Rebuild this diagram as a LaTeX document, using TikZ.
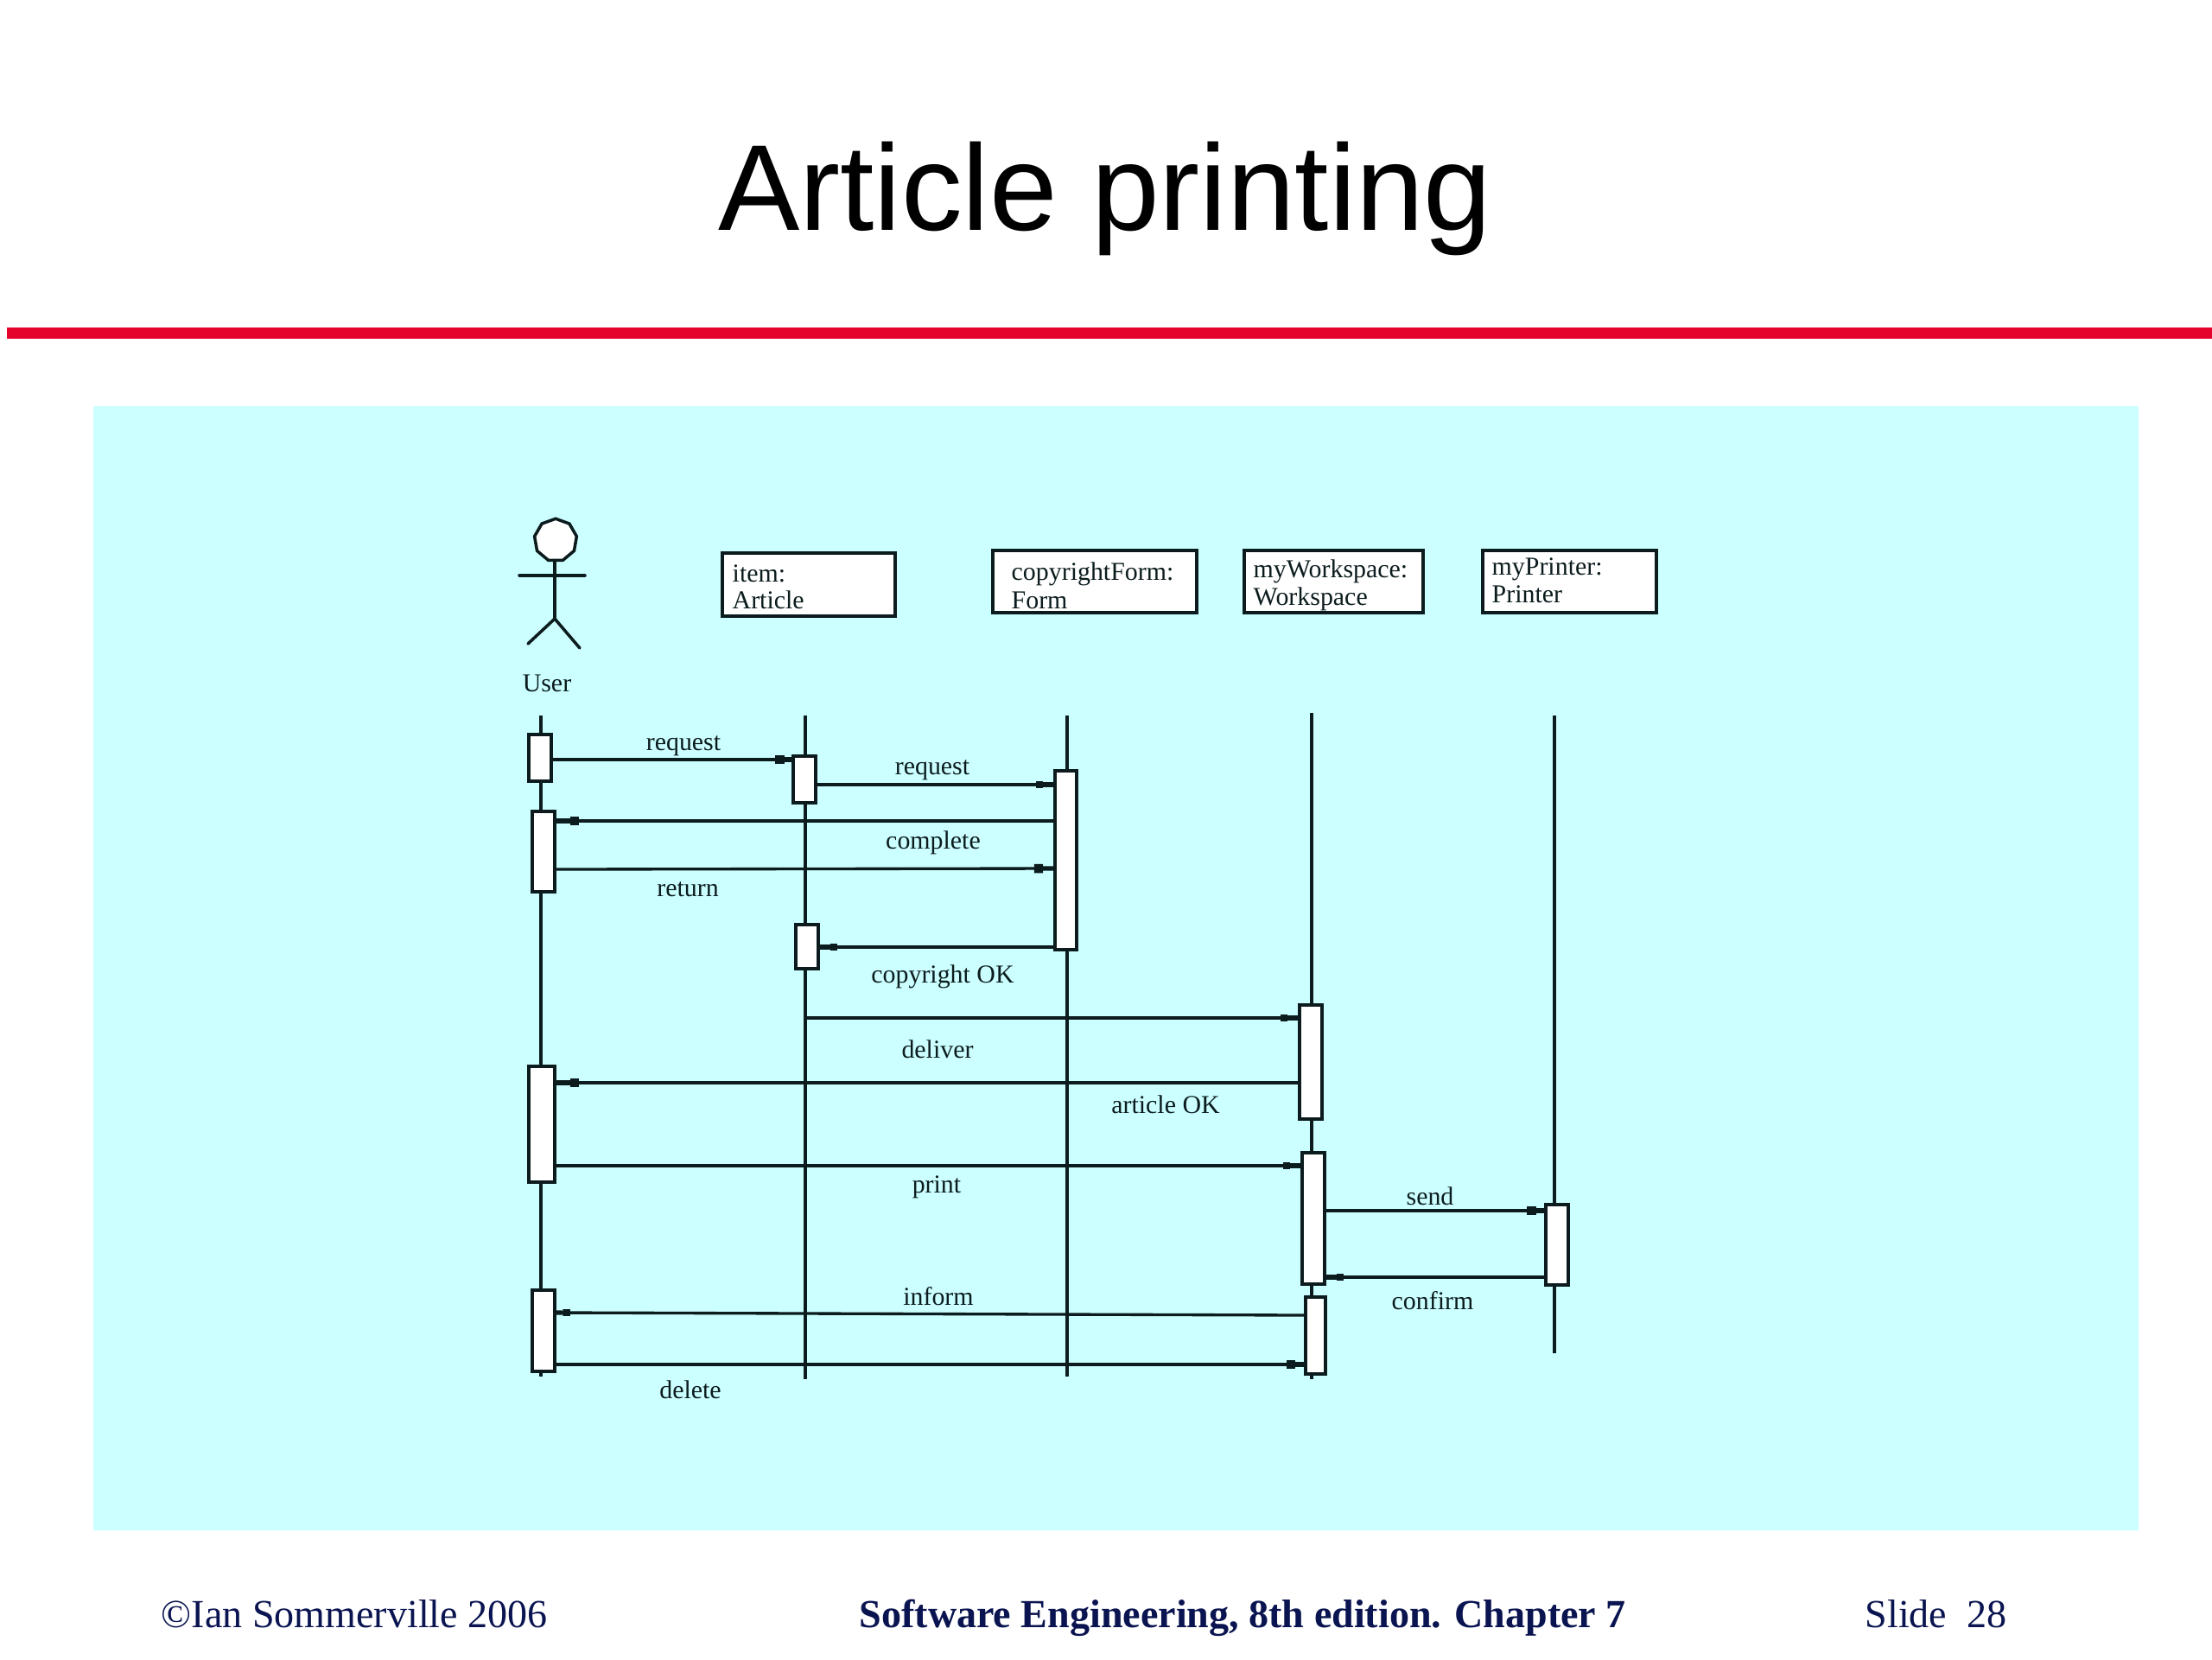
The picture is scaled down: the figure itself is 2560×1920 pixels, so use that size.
\documentclass[tikz,border=0pt]{standalone}
\usepackage{fontspec}
\setmainfont{Liberation Serif}
\newfontfamily\arialfont{Liberation Sans}
\usetikzlibrary{arrows.meta,fit,shapes.geometric}
\definecolor{ink}{RGB}{12,28,30}
\definecolor{panel}{RGB}{204,255,255}
\definecolor{rulered}{RGB}{228,4,44}
\definecolor{footnavy}{RGB}{10,20,80}
\newcommand{\pxu}{0.2845pt}
\tikzset{
  x=0.01cm,y=-0.01cm,
  titletext/.style={font=\arialfont\fontsize{40.2}{40.2}\selectfont,text=black,inner sep=0,anchor=base},
  foot/.style={font=\fontsize{13.1}{13.1}\selectfont,text=footnavy,inner sep=0,anchor=base west},
  footbold/.style={font=\bfseries\fontsize{13.1}{13.1}\selectfont,text=footnavy,inner sep=0,anchor=base west},
  lbl/.style={font=\fontsize{8.5}{8.5}\selectfont,text=ink,inner sep=0,anchor=center},
  objtext/.style={font=\fontsize{8.5}{8.5}\selectfont,text=ink,inner sep=0,anchor=west},
  objbox/.style={draw=ink,fill=white,line width=0.9pt,inner sep=0},
  actbar/.style={draw=ink,fill=white,line width=0.95pt,inner sep=0},
  life/.style={draw=ink,line width=1pt},
  limb/.style={draw=ink,line width=1pt,line cap=round},
  msg/.style={draw=ink,line width=0.95pt,
    -{Square[length=2.9pt,width=3pt]Square[length=#1,width=0.45pt]}},
  msg/.default=3pt,
  msgheavy/.style={msg=#1,line width=1.2pt},
  msgheavy/.default=3pt,
  msgsmall/.style={draw=ink,line width=0.95pt,
    -{Square[length=2.4pt,width=2.2pt]Square[length=#1,width=0.45pt]}},
  msgsmall/.default=3pt,
}
\newcommand{\actb}[5]{\node[actbar,fit={(#2,#3)(#4,#5)}] (#1) {};}
\newcommand{\objb}[5]{\node[objbox,fit={(#2,#3)(#4,#5)}] (#1) {};}
\begin{document}
\begin{tikzpicture}
\useasboundingbox (0,0) rectangle (2560,1920);
\fill[white] (0,0) rectangle (2560,1920);
% title, rule, panel
\node[titletext] (title) at (1279,266) {Article printing};
\fill[rulered] (8,379) rectangle (2560,392);
\fill[panel] (108,470) rectangle (2475,1771);
% actor
\node[draw=ink,fill=white,line width=1pt,regular polygon,regular polygon sides=9,minimum size=49.5*\pxu,inner sep=0] (head) at (643,625) {};
\coordinate (hip) at (642,716);
\coordinate (armL) at (601,666);
\coordinate (armR) at (677,666);
\coordinate (footL) at (611,745);
\coordinate (footR) at (671,750);
\draw[limb] (head.south -| hip) -- (hip);
\draw[limb] (armL) -- (armR);
\draw[limb] (footL) -- (hip) -- (footR);
\node[lbl] (user) at (633,791) {User};
% objects
\objb{item}{836}{640}{1036}{713}
\objb{copy}{1149}{637}{1385}{709}
\objb{work}{1440}{637}{1647}{709}
\objb{prin}{1716}{637}{1917}{709}
\node[objtext] (itemA) at (847,664) {item:};
\node[objtext] (itemB) at (847,694) {Article};
\node[objtext] (copyA) at (1170,664) {copyrightForm:};
\node[objtext] (copyB) at (1170,695) {Form};
\node[objtext] (workA) at (1450,661) {myWorkspace:};
\node[objtext] (workB) at (1450,693) {Workspace};
\node[objtext] (prinA) at (1726,659) {myPrinter:};
\node[objtext] (prinB) at (1726,688) {Printer};
% lifelines
\coordinate (lu1) at (626,828); \coordinate (lu2) at (626,1593);
\coordinate (li1) at (932,828); \coordinate (li2) at (932,1596);
\coordinate (lf1) at (1235,828); \coordinate (lf2) at (1235,1593);
\coordinate (lw1) at (1518,825); \coordinate (lw2) at (1518,1596);
\coordinate (lp1) at (1799,828); \coordinate (lp2) at (1799,1566);
\draw[life] (lu1) -- (lu2);
\draw[life] (li1) -- (li2);
\draw[life] (lf1) -- (lf2);
\draw[life] (lw1) -- (lw2);
\draw[life] (lp1) -- (lp2);
% activation bars
\actb{ua}{612}{850}{638}{904}
\actb{ub}{616}{939}{642}{1032}
\actb{uc}{612}{1234}{642}{1368}
\actb{ud}{616}{1493}{642}{1587}
\actb{ia}{918}{875}{944}{929}
\actb{ib}{921}{1070}{947}{1121}
\actb{fa}{1221}{892}{1246}{1099}
\actb{wa}{1504}{1163}{1530}{1295}
\actb{wb}{1507}{1334}{1533}{1486}
\actb{wc}{1511}{1501}{1534}{1590}
\actb{pa}{1789}{1394}{1815}{1487}
% messages
\draw[msg=2.5pt] (ua.east |- 0,879) -- (ia.west |- 0,879);
\draw[msgsmall=3.5pt] (ia.east |- 0,908) -- (fa.west |- 0,908);
\draw[msgheavy=4.5pt] (fa.west |- 0,950) -- (ub.east |- 0,950);
\draw[msg=3.5pt] (ub.east |- 0,1006) -- (fa.west |- 0,1005);
\draw[msgsmall=3.5pt] (fa.west |- 0,1096) -- (ib.east |- 0,1096);
\coordinate (dstart) at (li1 |- 0,1178);
\draw[msgsmall=3.5pt] (dstart) -- (wa.west |- 0,1178);
\draw[msgheavy=4.5pt] (wa.west |- 0,1253) -- (uc.east |- 0,1253);
\draw[msgsmall=3.5pt] (uc.east |- 0,1349) -- (wb.west |- 0,1349);
\draw[msg=2.8pt] (wb.east |- 0,1401) -- (pa.west |- 0,1401);
\draw[msgsmall=3.5pt] (pa.west |- 0,1478) -- (wb.east |- 0,1478);
\draw[msgsmall=2.2pt] (wc.west |- 0,1522) -- (ud.east |- 0,1519);
\draw[msg=3pt] (ud.east |- 0,1579) -- (wc.west |- 0,1579);
% message labels
\node[lbl] (l1) at (791,863) {request};
\node[lbl] (l2) at (1079,891) {request};
\node[lbl] (l3) at (1080,975) {complete};
\node[lbl] (l4) at (796,1029) {return};
\node[lbl] (l5) at (1091,1130) {copyright OK};
\node[lbl] (l6) at (1085,1214) {deliver};
\node[lbl] (l7) at (1349,1278) {article OK};
\node[lbl] (l8) at (1084,1374) {print};
\node[lbl] (l9) at (1655,1384) {send};
\node[lbl] (l10) at (1658,1505) {confirm};
\node[lbl] (l11) at (1086,1500) {inform};
\node[lbl] (l12) at (799,1608) {delete};
% footer
\node[foot] (f1) at (186,1883) {©Ian Sommerville 2006};
\node[footbold] (f2) at (994,1883) {Software Engineering, 8th edition. Chapter 7};
\node[foot] (f3) at (2158,1883) {Slide\ \ 28};
\end{tikzpicture}
\end{document}
